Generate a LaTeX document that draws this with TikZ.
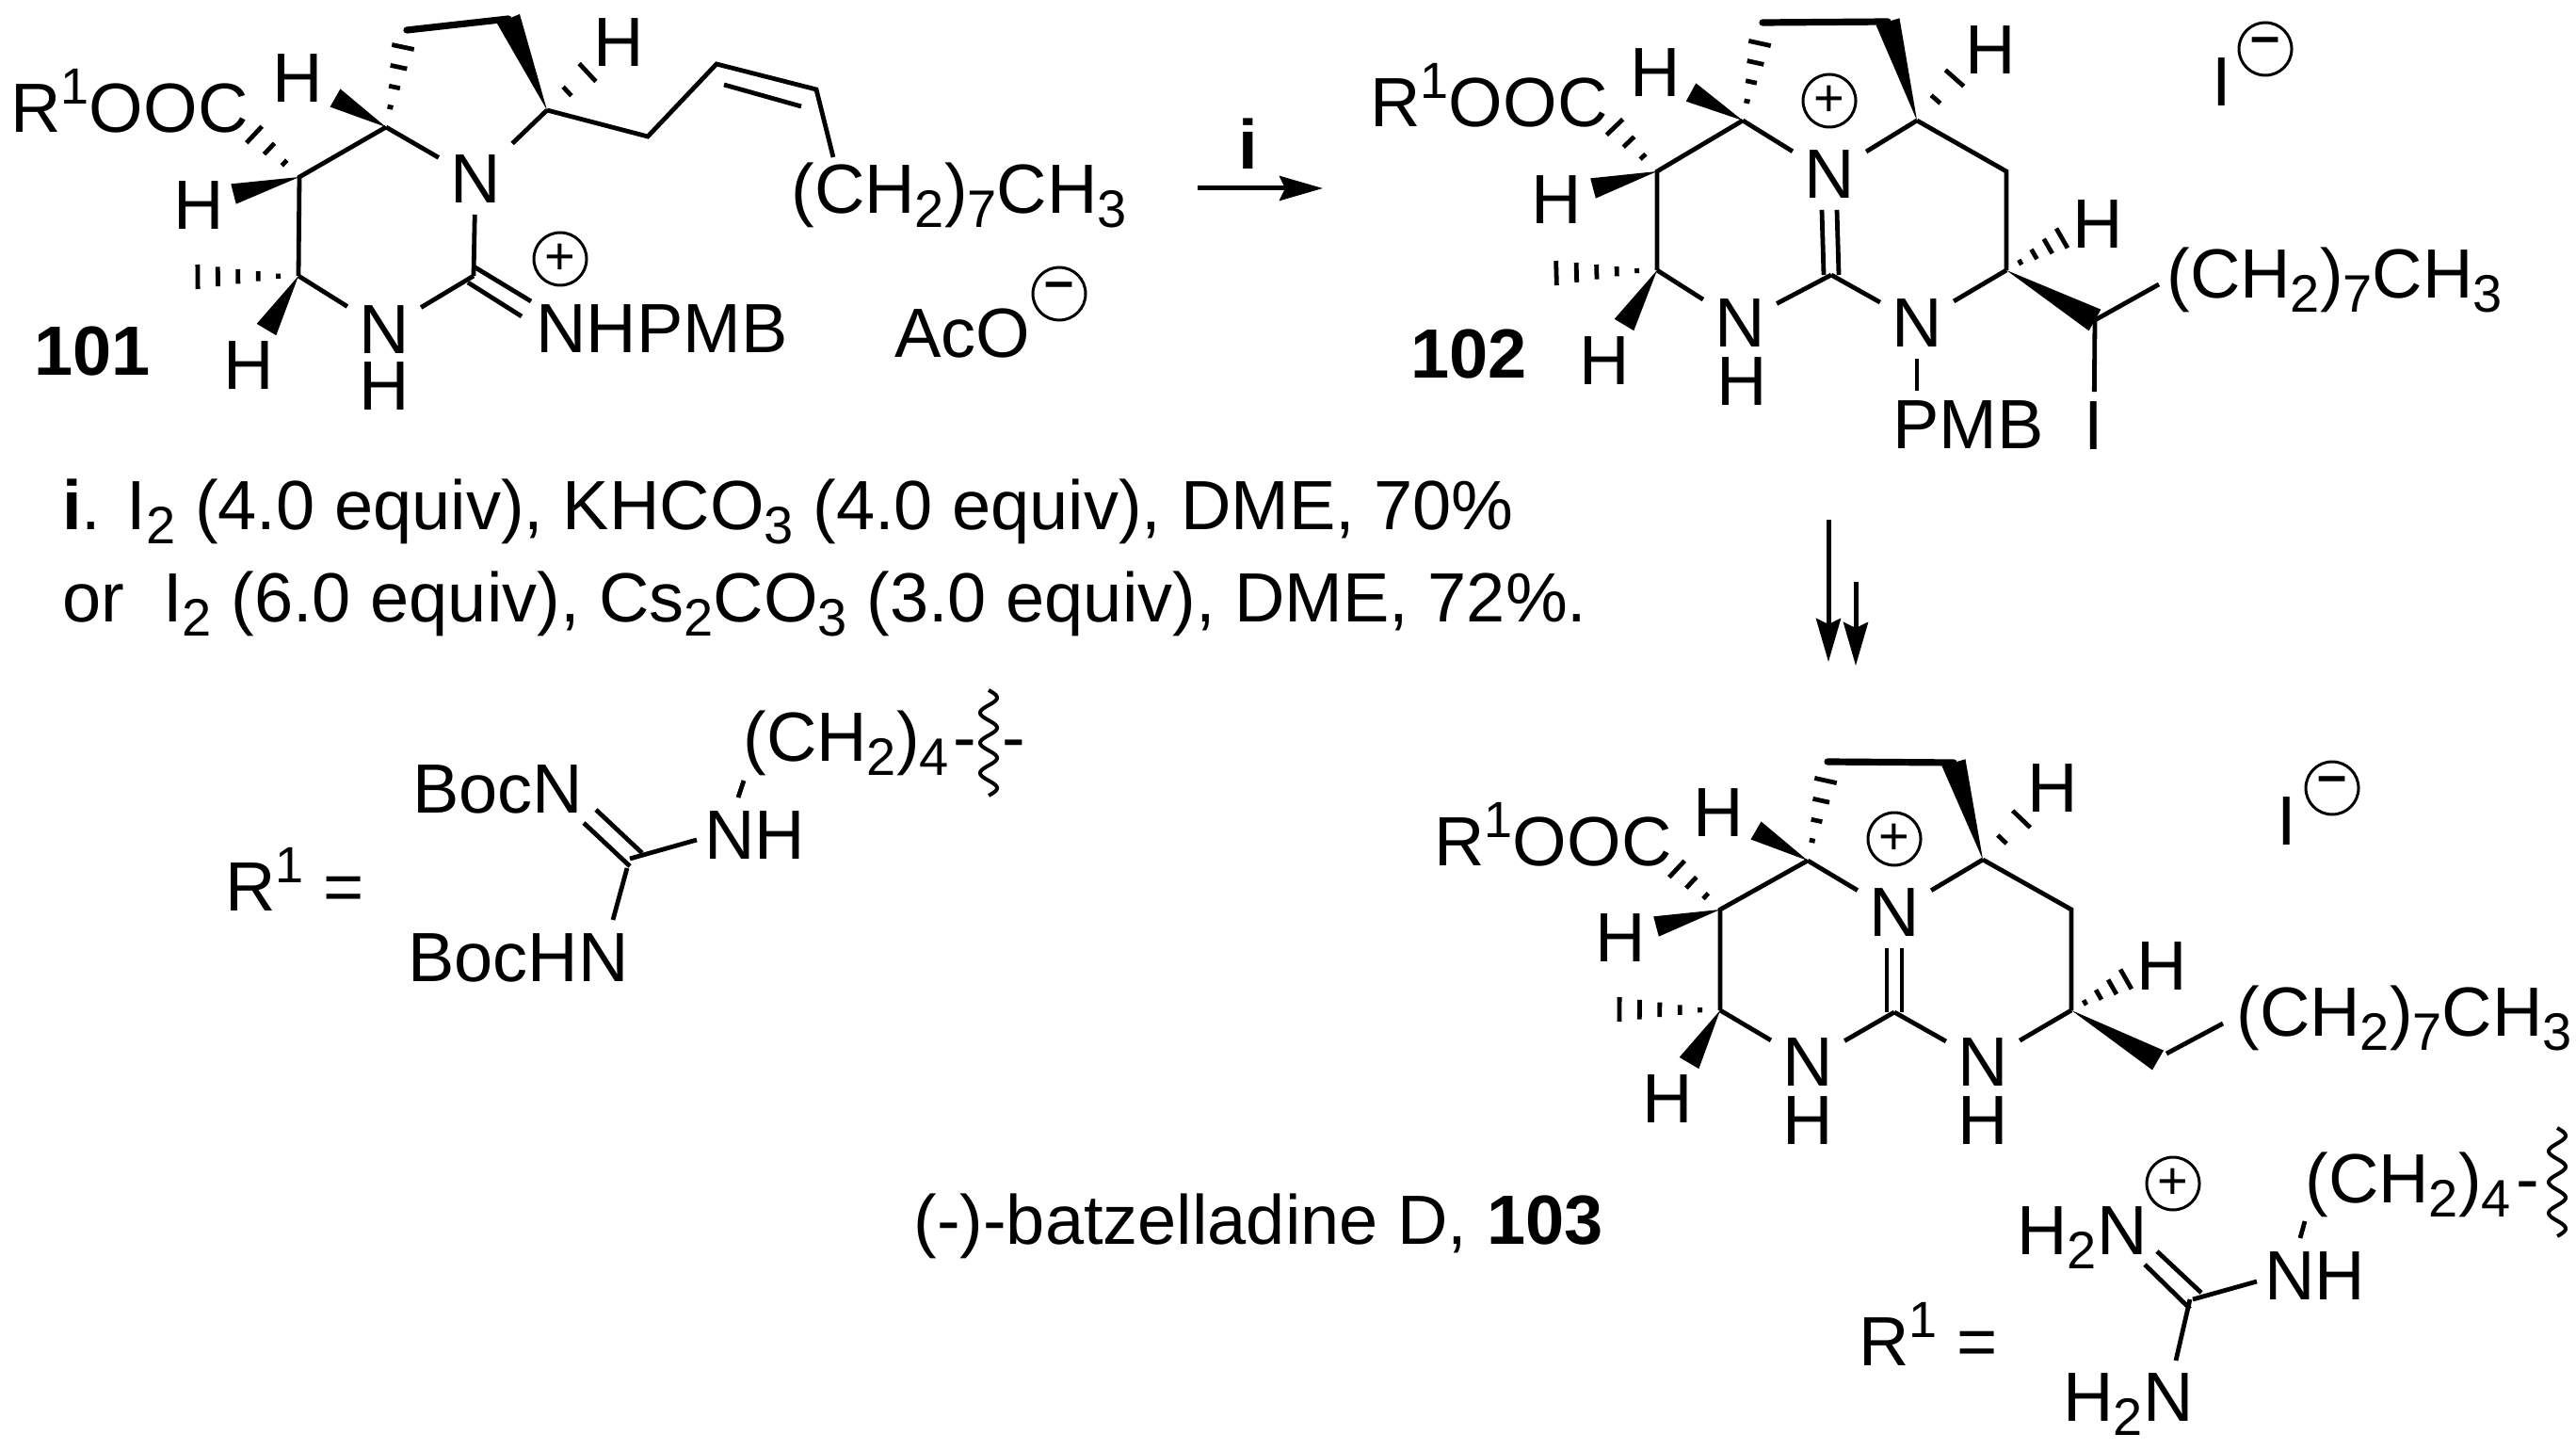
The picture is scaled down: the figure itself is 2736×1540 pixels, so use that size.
\documentclass[tikz,border=0pt]{standalone}
\usepackage{fontspec}
\setmainfont{Liberation Sans}
\usetikzlibrary{calc,arrows.meta}
\newcommand{\sbx}[1]{\raisebox{-7.5pt}{\fontsize{28}{30}\selectfont #1}}
\newcommand{\spx}[1]{\raisebox{15pt}{\fontsize{27}{30}\selectfont #1}}
\newcommand{\wdg}[3]{\fill (#1) -- ($(#2)!#3*0.5pt!90:(#1)$) -- ($(#2)!#3*0.5pt!-90:(#1)$) -- cycle;}
\newcommand{\hsh}[4]{\foreach \i in {1,...,#4}{%
  \pgfmathsetmacro\tt{\i/#4}\pgfmathsetlengthmacro\hw{\tt*#3*0.5pt}%
  \coordinate (hp) at ($(#1)!\tt!(#2)$);%
  \draw[hashline] ($(hp)!\hw!90:(#1)$) -- ($(hp)!\hw!-90:(#1)$);}}
\newcommand{\wavy}[3]{\draw[bond,line width=2pt] plot[domain=0:1,samples=90,smooth] ({#1+9*sin(1260*\x)},{#2+#3*\x});}
\tikzset{
  x=0.5pt,y=-0.5pt,
  every node/.style={font=\fontsize{37}{40}\selectfont,text=black},
  bond/.style={draw=black,line width=2.4pt,line cap=butt},
  thickbond/.style={draw=black,line width=3.6pt,line cap=round},
  hashline/.style={draw=black,line width=2.4pt},
  atom/.style={inner sep=6pt,anchor=center},
  hlab/.style={inner sep=0pt,anchor=center},
  lbl/.style={inner sep=0pt,anchor=base west},
  boldlbl/.style={inner sep=0pt,anchor=base west,font=\fontsize{37}{40}\selectfont\bfseries},
  charge/.style={circle,draw=black,line width=1.5pt,minimum size=28pt,inner sep=0pt,font=\fontsize{28}{28}\selectfont},
  rxn/.style={draw=black,line width=2.5pt,-{Stealth[length=23pt,width=13pt,inset=3pt]}},
}
\begin{document}
\begin{tikzpicture}
\useasboundingbox (0,0) rectangle (2736,1540);
% ---------- 101 ----------
\coordinate (a3) at (410,135);\coordinate (a4) at (318,188);\coordinate (a5) at (317,293);
\coordinate (ag) at (503,293);\coordinate (ar) at (581,117);\coordinate (atl) at (432,32);
\coordinate (atr) at (540,20);\coordinate (ac1) at (688,145);\coordinate (ac2) at (761,68);
\coordinate (ac3) at (867,95);\coordinate (ac4) at (885,167);
\coordinate (ad1) at (769,90);\coordinate (ad2) at (851,113);
\coordinate (ae1) at (503,283);\coordinate (ae2) at (564,320);\coordinate (ae3) at (497,300);\coordinate (ae4) at (554,336);
\node[atom] (aN1) at (505,190) {N};
\node[atom] (aN2) at (408,350) {N};
\node[hlab] (aNH) at (408,410) {H};
\node[hlab] (aH1) at (316,83) {H};
\node[hlab] (aH2) at (211,218) {H};
\node[hlab] (aH3) at (264,388) {H};
\node[hlab] (aH4) at (657,45) {H};
\node[lbl] (aR) at (11,141) {R\spx{1}OOC};
\node[lbl] (aCH) at (840,227) {(CH\sbx{2})\sbx{7}CH\sbx{3}};
\node[lbl] (aNP) at (569,375) {NHPMB};
\node[lbl] (aAc) at (950,380) {AcO};
\node[charge] (aP) at (595,275) {+};
\node[charge] (aM) at (1125,312) {\raisebox{3pt}{\textbf{–}}};
\node[boldlbl] (a101) at (36,399) {101};
\draw[bond] (a3)--(a4)--(a5);
\draw[bond] (a3)--(aN1);\draw[bond] (aN1)--(ar);\draw[bond] (aN1)--(ag);
\draw[bond] (a5)--(aN2);\draw[bond] (aN2)--(ag);
\draw[bond] (ar)--(ac1)--(ac2)--(ac3)--(ac4);\draw[bond] (ad1)--(ad2);
\draw[bond] (ae1)--(ae2);\draw[bond] (ae3)--(ae4);
\draw[thickbond] (atl)--(atr);
\wdg{ar}{atr}{13}\wdg{a3}{356,104}{11}\wdg{a4}{248,206}{11}\wdg{a5}{283,350}{12}
\hsh{a3}{428,50}{12}{4}\hsh{a4}{270,143}{12}{3}\hsh{a5}{210,294}{13}{5}\hsh{ar}{624,77}{13}{2}
% ---------- 102 ----------
\coordinate (b3) at (1851,128);\coordinate (b4) at (1760,182);\coordinate (b5) at (1760,287);
\coordinate (bg) at (1945,292);\coordinate (br) at (2036,128);\coordinate (bc) at (2131,182);
\coordinate (bs) at (2131,287);\coordinate (bi) at (2225,340);\coordinate (bch) at (2293,302);
\coordinate (btl) at (1872,24);\coordinate (btr) at (2005,23);\coordinate (bNP) at (2036,415);
\node[atom] (bN1) at (1943,185) {N};
\node[atom] (bN2) at (1848,343) {N};
\node[hlab] (bNH) at (1850,405) {H};
\node[atom] (bN3) at (2036,343) {N};
\node[hlab] (bH1) at (1758,77) {H};
\node[hlab] (bH2) at (1653,212) {H};
\node[hlab] (bH3) at (1704,383) {H};
\node[hlab] (bH4) at (2114,53) {H};
\node[hlab] (bH5) at (2228,238) {H};
\node[lbl] (bR) at (1455,135) {R\spx{1}OOC};
\node[lbl] (bCH) at (2301,317) {(CH\sbx{2})\sbx{7}CH\sbx{3}};
\node[lbl] (bPMB) at (2010,477) {PMB};
\node[atom,inner sep=5pt] (bI) at (2224,452) {I};
\node[lbl] (bI2) at (2349,113) {I};
\node[charge] (bP) at (1943,107) {+};
\node[charge] (bM) at (2406,52) {\raisebox{3pt}{\textbf{–}}};
\node[boldlbl] (b102) at (1498,402) {102};
\draw[bond] (b3)--(b4)--(b5);
\draw[bond] (b3)--(bN1);\draw[bond] (bN1)--(br);
\draw[bond] (br)--(bc)--(bs);
\draw[bond] (b5)--(bN2);\draw[bond] (bN2)--(bg);\draw[bond] (bg)--(bN3);\draw[bond] (bN3)--(bs);
\draw[bond] ([xshift=-4pt]bN1.south)--([xshift=-4pt]bg);\draw[bond] ([xshift=4pt]bN1.south)--([xshift=4pt]bg);
\draw[bond] (bN3)--(bNP);
\draw[bond] (bi)--(bch);\draw[bond] (bi)--(bI);
\draw[thickbond] (btl)--(btr);
\wdg{br}{btr}{13}\wdg{b3}{1796,98}{11}\wdg{b4}{1692,200}{11}\wdg{b5}{1725,345}{12}\wdg{bs}{bi}{13}
\hsh{b3}{1869,46}{12}{4}\hsh{b4}{1715,135}{12}{3}\hsh{b5}{1653,290}{13}{5}\hsh{br}{2076,83}{13}{2}\hsh{bs}{2190,253}{12}{4}
% arrows
\coordinate (ar1) at (1272,200);\coordinate (ar2) at (1405,200);
\draw[rxn] (ar1)--(ar2);
\node[boldlbl] (ilab) at (1315,180) {i};
\coordinate (d1a) at (1942,552);\coordinate (d1b) at (1942,703);
\coordinate (d2a) at (1971,618);\coordinate (d2b) at (1971,707);
\draw[rxn] (d1a)--(d1b);\draw[rxn] (d2a)--(d2b);
% conditions
\node[lbl] (cond1) at (66,562) {\textbf{i}. I\sbx{2} (4.0 equiv), KHCO\sbx{3} (4.0 equiv), DME, 70\%};
\node[lbl] (cond2) at (66,660) {or\ \ I\sbx{2} (6.0 equiv), Cs\sbx{2}CO\sbx{3} (3.0 equiv), DME, 72\%.};
% ---------- R1 upper ----------
\node[lbl] (uR) at (239,967) {R\spx{1} =};
\node[lbl] (uB1) at (438,863) {BocN};
\node[lbl] (uB2) at (433,1042) {BocHN};
\node[lbl] (uNH) at (748,912) {NH};
\node[lbl] (uCH) at (789,808) {(CH\sbx{2})\sbx{4}};
\node[lbl] (ud1) at (1012,808) {-};
\node[lbl] (ud2) at (1064,808) {-};
\coordinate (uC) at (669,912);\coordinate (u1) at (740,892);\coordinate (u2) at (633,860);\coordinate (u3) at (682,906);
\coordinate (u4) at (620,874);\coordinate (u5) at (669,920);\coordinate (u6) at (666,922);\coordinate (u7) at (651,977);
\coordinate (u8) at (790,829);\coordinate (u9) at (784,847);
\draw[bond] (uC)--(u1);\draw[bond] (u2)--(u3);\draw[bond] (u4)--(u5);\draw[bond] (u6)--(u7);\draw[bond] (u8)--(u9);
\wavy{1050}{733}{112}
% ---------- 103 ----------
\coordinate (c3) at (1920,914);\coordinate (c4) at (1827,966);\coordinate (c5) at (1827,1073);
\coordinate (cg) at (2012,1075);\coordinate (cr) at (2106,913);\coordinate (cc) at (2200,966);
\coordinate (cs) at (2200,1073);\coordinate (cw) at (2292,1126);\coordinate (cb) at (2301,1119);\coordinate (cch) at (2361,1087);
\coordinate (ctl) at (1941,809);\coordinate (ctr) at (2075,810);
\node[atom] (cN1) at (2012,969) {N};
\node[atom] (cN2) at (1920,1128) {N};
\node[hlab] (cH6) at (1920,1190) {H};
\node[atom] (cN3) at (2106,1128) {N};
\node[hlab] (cH7) at (2106,1190) {H};
\node[hlab] (cH1) at (1825,863) {H};
\node[hlab] (cH2) at (1721,996) {H};
\node[hlab] (cH3) at (1771,1167) {H};
\node[hlab] (cH4) at (2180,837) {H};
\node[hlab] (cH5) at (2296,1026) {H};
\node[lbl] (cR) at (1523,919) {R\spx{1}OOC};
\node[lbl] (cCH) at (2375,1100) {(CH\sbx{2})\sbx{7}CH\sbx{3}};
\node[lbl] (cI2) at (2418,897) {I};
\node[charge] (cP) at (2012,891) {+};
\node[charge] (cM) at (2477,837) {\raisebox{3pt}{\textbf{–}}};
\node[lbl] (cname) at (970,1321) {(-)-batzelladine D, \textbf{103}};
\draw[bond] (c3)--(c4)--(c5);
\draw[bond] (c3)--(cN1);\draw[bond] (cN1)--(cr);
\draw[bond] (cr)--(cc)--(cs);
\draw[bond] (c5)--(cN2);\draw[bond] (cN2)--(cg);\draw[bond] (cg)--(cN3);\draw[bond] (cN3)--(cs);
\draw[bond] ([xshift=-4pt]cN1.south)--([xshift=-4pt]cg);\draw[bond] ([xshift=4pt]cN1.south)--([xshift=4pt]cg);
\draw[bond] (cb)--(cch);
\draw[thickbond] (ctl)--(ctr);
\wdg{cr}{ctr}{13}\wdg{c3}{1865,882}{11}\wdg{c4}{1759,984}{11}\wdg{c5}{1794,1129}{12}\wdg{cs}{cw}{12}
\hsh{c3}{1939,829}{12}{4}\hsh{c4}{1781,923}{12}{3}\hsh{c5}{1720,1072}{13}{5}\hsh{cr}{2147,870}{13}{2}\hsh{cs}{2258,1040}{12}{4}
% ---------- R1 lower ----------
\node[lbl] (lR) at (1974,1450) {R\spx{1} =};
\node[lbl] (lN1) at (2142,1332) {H\sbx{2}N};
\node[lbl] (lN2) at (2191,1509) {H\sbx{2}N};
\node[lbl] (lNH) at (2405,1380) {NH};
\node[lbl] (lCH) at (2448,1277) {(CH\sbx{2})\sbx{4}};
\node[lbl] (ld1) at (2672,1277) {-};
\node[charge] (lP) at (2308,1257) {+};
\coordinate (lC) at (2329,1380);\coordinate (l1) at (2397,1361);\coordinate (l2) at (2291,1329);\coordinate (l3) at (2338,1373);
\coordinate (l4) at (2278,1343);\coordinate (l5) at (2326,1390);\coordinate (l6) at (2326,1380);\coordinate (l7) at (2311,1445);
\coordinate (l8) at (2448,1297);\coordinate (l9) at (2443,1315);
\draw[bond] (lC)--(l1);\draw[bond] (l2)--(l3);\draw[bond] (l4)--(l5);\draw[bond] (l6)--(l7);\draw[bond] (l8)--(l9);
\wavy{2716}{1198}{115}
\end{tikzpicture}
\end{document}
